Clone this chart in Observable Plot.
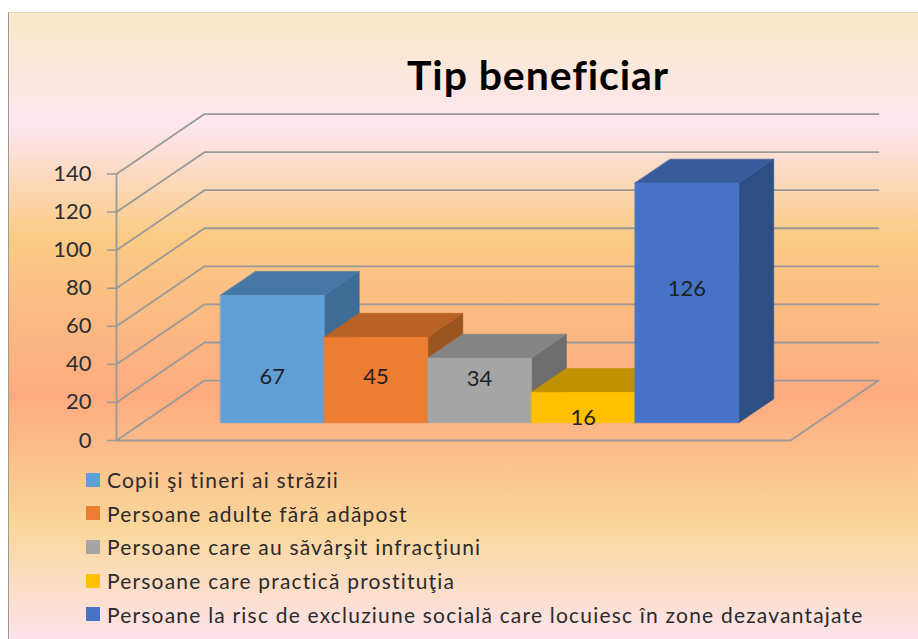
<!DOCTYPE html>
<html lang="ro">
<head>
<meta charset="utf-8">
<script src="https://cdn.jsdelivr.net/npm/d3@7"></script>
<script src="https://cdn.jsdelivr.net/npm/@observablehq/plot@0.6"></script>
<style>
  html, body { margin: 0; padding: 0; background: #fff; }
  body { width: 918px; height: 639px; overflow: hidden; position: relative; font-family: Lato, sans-serif; }
  #bg { position: absolute; left: 8px; top: 12px; width: 910px; height: 627px; box-sizing: border-box;
        border-left: 1.5px solid #9a9a9a; border-top: 1px solid #eadbb8;
        background: linear-gradient(180deg, #fbe9c8 0%, #fde6f0 18%, #fbcb85 35.5%, #fdab7f 61%, #fad79c 82.6%, #fde3ec 100%); }
  #content { position: absolute; left: 0; top: 0; width: 918px; }
  #title { height: 100px; box-sizing: border-box; padding-left: 158px; text-align: center;
           font-size: 41px; font-weight: 700; line-height: 150px; color: #000; letter-spacing: 0.9px; }
  #legend { font-size: 21px; color: #2b2b2b; letter-spacing: 1.2px; padding-top: 8px; }
  .row { display: flex; align-items: center; height: 33.6px; padding-left: 86px; white-space: nowrap; }
  .sw { width: 14px; height: 14px; margin-right: 7px; flex: none; }
</style>
</head>
<body>
<div id="bg"></div>
<div id="content">
  <div id="title">Tip beneficiar</div>
  <div id="chart"></div>
  <div id="legend"></div>
</div>
<script>
const categories = [
  "Copii şi tineri ai străzii",
  "Persoane adulte fără adăpost",
  "Persoane care au săvârşit infracţiuni",
  "Persoane care practică prostituţia",
  "Persoane la risc de excluziune socială care locuiesc în zone dezavantajate"
];
const values = [67, 45, 34, 16, 126];
const labelHeights = [24.3, 24.3, 22.8, 2.8, 70.3];
const yTicks = [0, 20, 40, 60, 80, 100, 120, 140];
const frontColors = ["#619fd9", "#ed7d31", "#a5a5a5", "#ffc000", "#4673c6"];
const topColors = ["#4578a4", "#b86225", "#848484", "#c09000", "#375b9b"];
const sideColors = ["#3e6d98", "#9d551f", "#6e6e6e", "#a67c00", "#2e4f84"];

// Oblique projection of depth d (0 front, 1 back) in chart units
const depthX = 0.849, depthY = 31.5;
const floorLeft = -1.004, floorRight = 5.5;
const barFront = 0.295, barBack = 0.693;
const gridInk = "#999999";

const barPoint = (i, d, v) => ({x: i + (d - barFront) * depthX, y: v + d * depthY});
const floorPoint = (u, d, v) => ({x: u + d * depthX, y: v + d * depthY});

const faces = [];
const addFace = (id, color, pts) => pts.forEach(p => faces.push({...p, id, color}));
values.forEach((v, i) => {
  addFace(`s${i}`, sideColors[i], [barPoint(i + 1, barFront, 0), barPoint(i + 1, barBack, 0), barPoint(i + 1, barBack, v), barPoint(i + 1, barFront, v)]);
  addFace(`t${i}`, topColors[i], [barPoint(i, barFront, v), barPoint(i + 1, barFront, v), barPoint(i + 1, barBack, v), barPoint(i, barBack, v)]);
  addFace(`f${i}`, frontColors[i], [barPoint(i, barFront, 0), barPoint(i + 1, barFront, 0), barPoint(i + 1, barFront, v), barPoint(i, barFront, v)]);
});

const grid = [];
yTicks.forEach(v => {
  grid.push({...floorPoint(floorLeft, 0, v), v}, {...floorPoint(floorLeft, 1, v), v}, {...floorPoint(floorRight, 1, v), v});
});
const floorEdge = [floorPoint(floorLeft, 0, 0), floorPoint(floorRight, 0, 0), floorPoint(floorRight, 1, 0)];

const labels = values.map((v, i) => ({
  text: String(v),
  x: barPoint(i + 0.5, barFront, 0).x,
  y: barPoint(i, barFront, labelHeights[i]).y
}));

const chart = Plot.plot({
  width: 918, height: 355,
  marginTop: 13, marginBottom: 15, marginLeft: 116, marginRight: 40,
  style: {background: "transparent", overflow: "visible", fontFamily: "Lato, sans-serif"},
  x: {domain: [floorLeft, floorRight + depthX], axis: null},
  y: {domain: [0, 171.8]},
  color: {type: "identity"},
  marks: [
    Plot.line(grid, {x: "x", y: "y", z: "v", stroke: gridInk, strokeWidth: 1.8}),
    Plot.line(floorEdge, {x: "x", y: "y", stroke: gridInk, strokeWidth: 1.8}),
    Plot.ruleX([floorLeft], {y1: 0, y2: 140, stroke: gridInk, strokeWidth: 1.8}),
    Plot.axisY({ticks: yTicks, tickSize: 9, tickPadding: 16, fontSize: 22, stroke: gridInk, strokeWidth: 1.5, fill: "#2e2e2e", label: null, style: {letterSpacing: "0.6px"}}),
    Plot.line(faces, {x: "x", y: "y", z: "id", fill: "color", stroke: "color", strokeWidth: 0.6, curve: "linear-closed"}),
    Plot.text(labels, {x: "x", y: "y", text: "text", fontSize: 22, fill: "#222", style: {letterSpacing: "0.6px"}})
  ]
});
document.getElementById("chart").append(chart);

const legend = document.getElementById("legend");
categories.forEach((c, i) => {
  const row = document.createElement("div");
  row.className = "row";
  const sw = document.createElement("span");
  sw.className = "sw";
  sw.style.background = frontColors[i];
  const t = document.createElement("span");
  t.textContent = c;
  row.append(sw, t);
  legend.append(row);
});
</script>
</body>
</html>
